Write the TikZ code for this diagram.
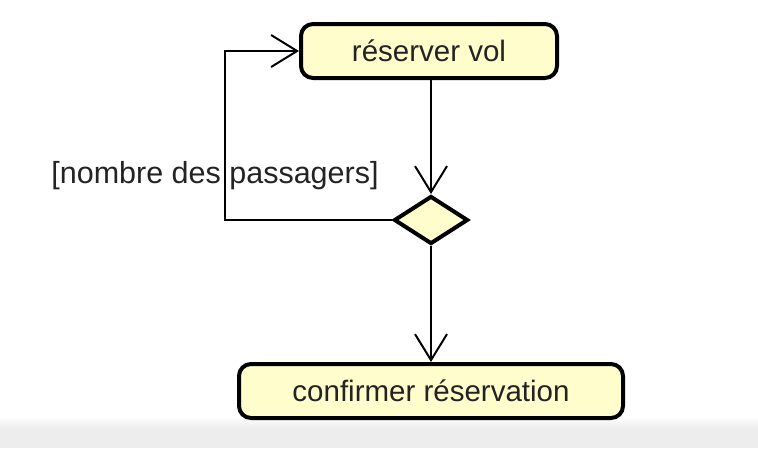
\documentclass[tikz,border=0pt]{standalone}
\usepackage{fontspec}
\setmainfont{Liberation Sans}
\usetikzlibrary{shapes.geometric,arrows.meta}
\definecolor{actfill}{RGB}{255,253,204}
\definecolor{txtgray}{RGB}{35,35,35}
\begin{document}
\begin{tikzpicture}[
  x=1pt, y=-1pt,
  action/.style={rectangle, rounded corners=12pt, draw, line width=4pt, fill=actfill,
    text=txtgray, font=\fontsize{29.5}{34}\selectfont, minimum height=54pt, inner sep=0pt},
  decision/.style={diamond, draw, line width=4pt, fill=actfill, inner sep=0pt,
    minimum width=74pt, minimum height=48pt},
  flow/.style={draw, line width=2pt, -{Straight Barb[length=26pt,width=32pt,line width=2pt]}},
  guard/.style={text=txtgray, font=\fontsize{30.5}{34}\selectfont, inner sep=0pt}
]
\useasboundingbox (0,0) rectangle (758,448);
\shade[top color=white, bottom color=black!7] (0,416) rectangle (758,428);
\fill[black!7] (0,428) rectangle (758,448);

\node[action, minimum width=256pt] (reserver) at (429,51) {réserver vol};
\node[decision] (choix) at (431,220) {};
\node[action, minimum width=384pt] (confirmer) at (431,391) {confirmer réservation};
\node[guard] (garde) at (215,176) {[nombre des passagers]};

\draw[flow] (reserver.south -| choix.north) -- (choix.north);
\draw[flow] (choix.south) -- (confirmer.north);
\draw[flow] (choix.west) -- ++(-167,0) |- (reserver.west);
\end{tikzpicture}
\end{document}
